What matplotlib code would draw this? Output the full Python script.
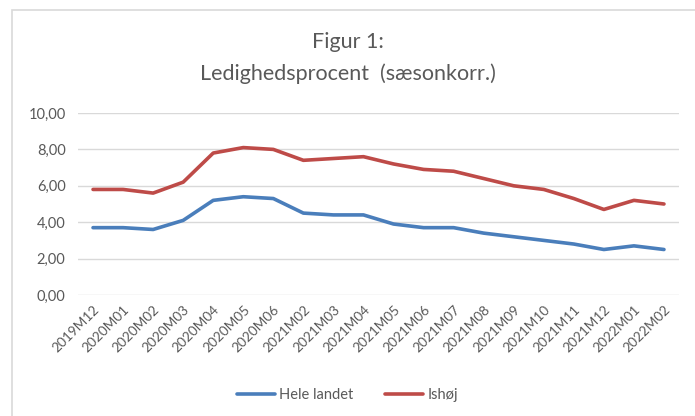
import matplotlib.pyplot as plt
from matplotlib.patches import Rectangle

# data
months = ["2019M12", "2020M01", "2020M02", "2020M03", "2020M04", "2020M05",
          "2020M06", "2021M02", "2021M03", "2021M04", "2021M05", "2021M06",
          "2021M07", "2021M08", "2021M09", "2021M10", "2021M11", "2021M12",
          "2022M01", "2022M02"]
hele_landet = [3.7, 3.7, 3.6, 4.1, 5.2, 5.4, 5.3, 4.5, 4.4, 4.4,
               3.9, 3.7, 3.7, 3.4, 3.2, 3.0, 2.8, 2.5, 2.7, 2.5]
ishoj = [5.8, 5.8, 5.6, 6.2, 7.8, 8.1, 8.0, 7.4, 7.5, 7.6,
         7.2, 6.9, 6.8, 6.4, 6.0, 5.8, 5.3, 4.7, 5.2, 5.0]
yticks = [0, 2, 4, 6, 8, 10]

plt.rcParams['font.family'] = ['Lato', 'DejaVu Sans']
grey = '#595959'

fig = plt.figure(figsize=(6.95, 4.16), dpi=100)
# chart border
fig.patches.append(Rectangle((12 / 695, -0.1), 1.0, 1 - 10 / 416 + 0.1,
                             transform=fig.transFigure, fill=False,
                             edgecolor='#D9D9D9', linewidth=1.2))

ax = fig.add_axes([78 / 695, 1 - 295 / 416, 601 / 695, 182 / 416])
x = list(range(len(months)))
ax.plot(x, hele_landet, color='#4A7EBB', linewidth=2.6, label='Hele landet',
        solid_capstyle='round')
ax.plot(x, ishoj, color='#BE4B48', linewidth=2.6, label='Ishøj',
        solid_capstyle='round')

ax.set_xlim(-0.5, len(months) - 0.5)
ax.set_ylim(0, 10)
ax.set_yticks(yticks)
ax.set_yticklabels(["{:.2f}".format(v).replace('.', ',') for v in yticks],
                   color=grey, fontsize=10.5)
ax.set_xticks(x)
ax.set_xticklabels(months, rotation=45, ha='right', rotation_mode='anchor',
                   color=grey, fontsize=9.8)
ax.tick_params(length=0, pad=9)
ax.tick_params(axis='x', pad=6)
ax.grid(axis='y', color='#D9D9D9', linewidth=1)
ax.set_axisbelow(True)
for s in ax.spines.values():
    s.set_visible(False)

fig.text(0.5, 1 - 42 / 416, "Figur 1:", ha='center', va='center',
         fontsize=15.5, color=grey)
fig.text(0.5, 1 - 74 / 416, "Ledighedsprocent  (sæsonkorr.)", ha='center',
         va='center', fontsize=15.5, color=grey)

fig.legend(loc='center', bbox_to_anchor=(0.5, 1 - 395 / 416), ncol=2,
           frameon=False, fontsize=10.5, labelcolor=grey, handlelength=2.6,
           handletextpad=0.3, columnspacing=2.2)

fig.savefig('out.png', dpi=100)
